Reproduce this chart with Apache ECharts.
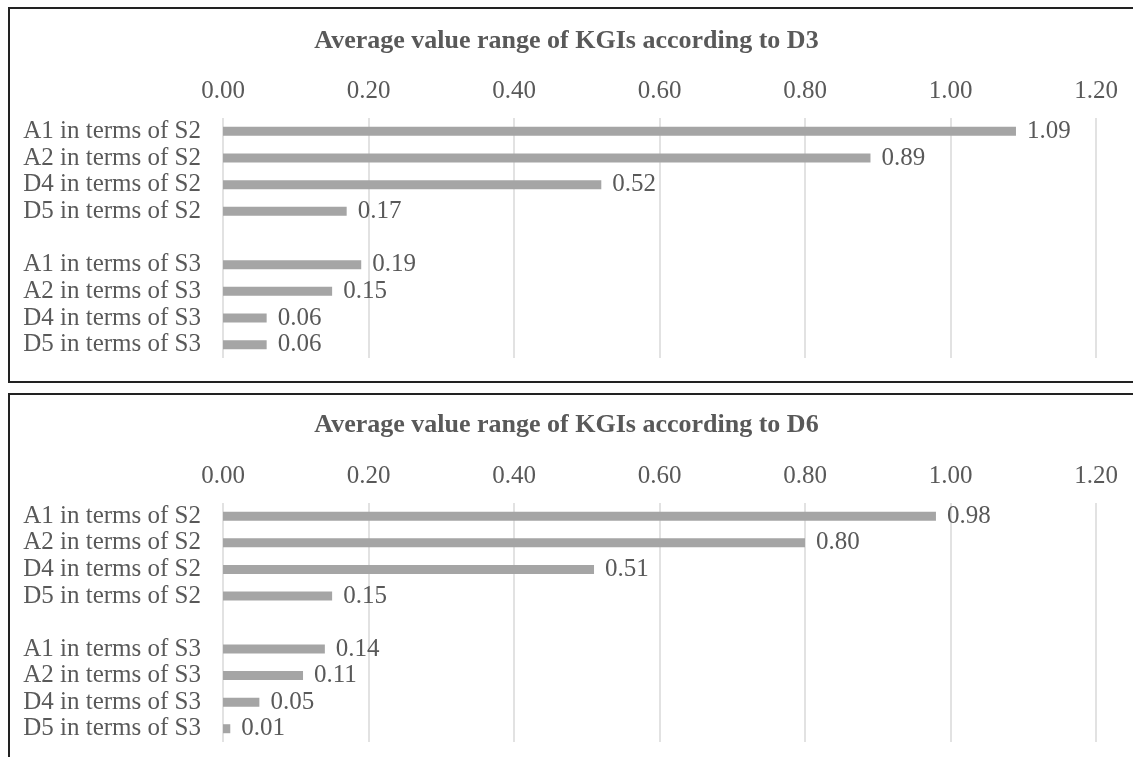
<!DOCTYPE html>
<html>
<head>
<meta charset="utf-8">
<script src="https://cdn.jsdelivr.net/npm/echarts@6/dist/echarts.min.js"></script>
<style>
  html, body { margin: 0; padding: 0; background: #fff; }
  #chart { width: 1133px; height: 757px; }
</style>
</head>
<body>
<div id="chart"></div>
<script>
// Category rows (an empty slot separates the S2 and S3 groups)
const categories = [
  'A1 in terms of S2', 'A2 in terms of S2', 'D4 in terms of S2', 'D5 in terms of S2',
  '',
  'A1 in terms of S3', 'A2 in terms of S3', 'D4 in terms of S3', 'D5 in terms of S3'
];
// Average value range of KGIs according to D3
const valuesD3 = [1.09, 0.89, 0.52, 0.17, null, 0.19, 0.15, 0.06, 0.06];
// Average value range of KGIs according to D6
const valuesD6 = [0.98, 0.80, 0.51, 0.15, null, 0.14, 0.11, 0.05, 0.01];
const titles = ['Average value range of KGIs according to D3', 'Average value range of KGIs according to D6'];
const axisMin = 0, axisMax = 1.2, axisStep = 0.2;

const FONT = '"Liberation Serif", "Times New Roman", serif';
const TEXT = '#595959';
const BAR = '#A5A5A5';
const GRID = '#D9D9D9';

const grids = [
  { left: 223, right: 37, top: 118, height: 240 },
  { left: 223, right: 37, top: 503, height: 239 }
];

function xAxisFor(i) {
  return {
    type: 'value', gridIndex: i, position: 'top',
    min: axisMin, max: axisMax, interval: axisStep,
    axisLine: { show: false }, axisTick: { show: false },
    axisLabel: { color: TEXT, fontFamily: FONT, fontSize: 25, margin: 14,
      formatter: v => v.toFixed(2) },
    splitLine: { lineStyle: { color: GRID, width: 1.5 } }
  };
}
function yAxisFor(i) {
  return {
    type: 'category', gridIndex: i, inverse: true, data: categories,
    axisLine: { show: false }, axisTick: { show: false },
    axisLabel: { color: TEXT, fontFamily: FONT, fontSize: 25, margin: 22, interval: 0 }
  };
}
function seriesFor(i, vals) {
  return {
    type: 'bar', xAxisIndex: i, yAxisIndex: i, data: vals,
    barWidth: 9, itemStyle: { color: BAR },
    label: { show: true, position: 'right', distance: 11, color: TEXT,
      fontFamily: FONT, fontSize: 25,
      formatter: p => p.value == null ? '' : p.value.toFixed(2) },
    silent: true
  };
}

const chart = echarts.init(document.getElementById('chart'));
chart.setOption({
  animation: false,
  title: [
    { text: titles[0], left: 'center', top: 23,
      textStyle: { color: TEXT, fontFamily: FONT, fontSize: 26, fontWeight: 'bold' } },
    { text: titles[1], left: 'center', top: 407,
      textStyle: { color: TEXT, fontFamily: FONT, fontSize: 26, fontWeight: 'bold' } }
  ],
  grid: grids,
  xAxis: [xAxisFor(0), xAxisFor(1)],
  yAxis: [yAxisFor(0), yAxisFor(1)],
  series: [seriesFor(0, valuesD3), seriesFor(1, valuesD6)],
  graphic: [
    { type: 'rect', shape: { x: 9, y: 8, width: 1200, height: 374 },
      style: { fill: 'none', stroke: '#222', lineWidth: 2 }, silent: true },
    { type: 'rect', shape: { x: 9, y: 394, width: 1200, height: 400 },
      style: { fill: 'none', stroke: '#222', lineWidth: 2 }, silent: true }
  ]
});
</script>
</body>
</html>
